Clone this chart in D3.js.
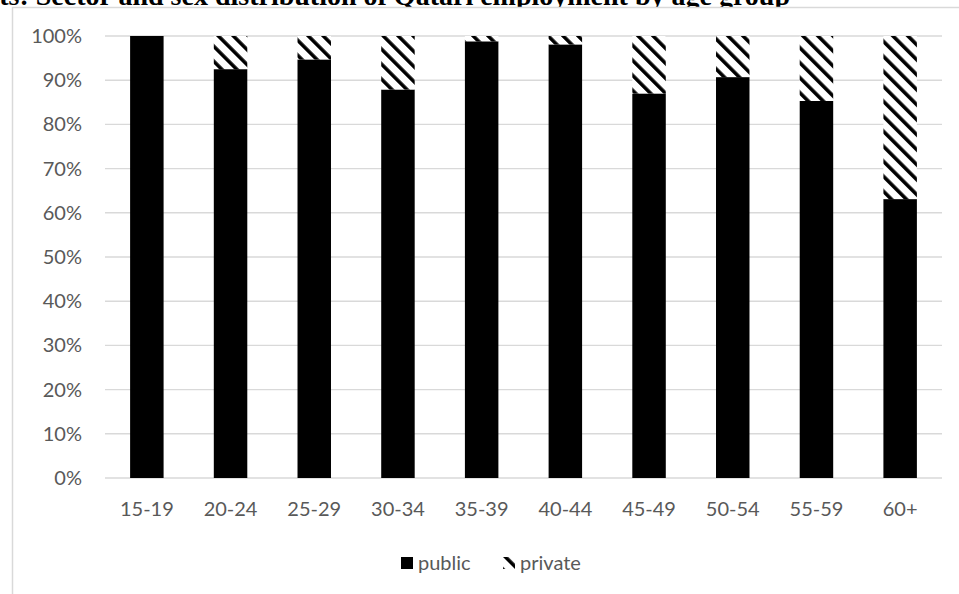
<!DOCTYPE html>
<html>
<head>
<meta charset="utf-8">
<script src="https://cdn.jsdelivr.net/npm/d3@7"></script>
<style>
  html, body { margin: 0; padding: 0; background: #fff; }
  svg { display: block; }
</style>
</head>
<body>
<svg id="chart" width="959" height="594"></svg>
<script>
// Age groups and the share of Qatari employment in each sector (%)
const ageGroups = ["15-19", "20-24", "25-29", "30-34", "35-39", "40-44", "45-49", "50-54", "55-59", "60+"];
const publicShare = [100, 92.5, 94.7, 87.9, 98.8, 98.1, 87.0, 90.7, 85.3, 63.1];
const privateShare = [0, 7.5, 5.3, 12.1, 1.2, 1.9, 13.0, 9.3, 14.7, 36.9];
const yTicks = [0, 10, 20, 30, 40, 50, 60, 70, 80, 90, 100];
const seriesNames = ["public", "private"];
const titleText = "ts: Sector and sex distribution of Qatari employment by age group";

const svg = d3.select("#chart");
const font = "Lato, 'Open Sans', 'Liberation Sans', sans-serif";
const labelColor = "#595959";
const gridColor = "#d9d9d9";

// Diagonal hatch used for the private sector
const defs = svg.append("defs");
defs.append("pattern")
  .attr("id", "hatch")
  .attr("patternUnits", "userSpaceOnUse")
  .attr("width", 10.6)
  .attr("height", 10.6)
  .attr("patternTransform", "rotate(-45)")
  .call(p => {
    p.append("rect").attr("width", 10.6).attr("height", 10.6).attr("fill", "#fff");
    p.append("rect").attr("x", 0).attr("width", 3.6).attr("height", 10.6).attr("fill", "#000");
  });

// Heading (runs off the top edge of the page)
svg.append("text")
  .attr("x", 790)
  .attr("y", 4.5)
  .attr("text-anchor", "end")
  .attr("font-family", "'Liberation Serif', 'Times New Roman', serif")
  .attr("font-weight", "bold")
  .attr("font-size", 28)
  .attr("fill", "#000")
  .text(titleText);

// Chart frame
svg.append("rect")
  .attr("x", 12.5).attr("y", 7.5)
  .attr("width", 1000).attr("height", 700)
  .attr("fill", "#fff")
  .attr("stroke", gridColor)
  .attr("stroke-width", 1.5);

const plot = { left: 105, right: 942, top: 36, bottom: 478 };

const x = d3.scaleBand()
  .domain(ageGroups)
  .range([plot.left, plot.right])
  .paddingInner(0.6)
  .paddingOuter(0.3);

const y = d3.scaleLinear()
  .domain([0, 100])
  .range([plot.bottom, plot.top]);

// Gridlines
svg.append("g")
  .selectAll("line")
  .data(yTicks)
  .join("line")
  .attr("x1", plot.left).attr("x2", plot.right)
  .attr("y1", d => y(d)).attr("y2", d => y(d))
  .attr("stroke", gridColor)
  .attr("stroke-width", 1.4);

// Y axis labels
const yAxis = svg.append("g")
  .attr("transform", `translate(${plot.left},0)`)
  .call(d3.axisLeft(y).tickValues(yTicks).tickFormat(d => d + "%").tickSize(0).tickPadding(23));
yAxis.select(".domain").remove();
yAxis.selectAll("text")
  .attr("font-family", font)
  .attr("font-size", 20)
  .attr("fill", labelColor);

// X axis labels
const xAxis = svg.append("g")
  .attr("transform", `translate(0,${plot.bottom})`)
  .call(d3.axisBottom(x).tickSize(0).tickPadding(24));
xAxis.select(".domain").remove();
xAxis.selectAll("text")
  .attr("font-family", font)
  .attr("font-size", 20)
  .attr("fill", labelColor);

// Stacked bars
const rows = ageGroups.map((g, i) => ({ group: g, public: publicShare[i], private: privateShare[i] }));
const stacked = d3.stack().keys(seriesNames)(rows);
const fills = { public: "#000", private: "url(#hatch)" };

svg.append("g")
  .selectAll("g")
  .data(stacked)
  .join("g")
  .attr("fill", d => fills[d.key])
  .selectAll("rect")
  .data(d => d)
  .join("rect")
  .attr("x", d => x(d.data.group))
  .attr("width", x.bandwidth())
  .attr("y", d => y(d[1]))
  .attr("height", d => Math.max(0, y(d[0]) - y(d[1])));

// Legend
const legend = svg.append("g").attr("transform", "translate(401,557)");
const legendItems = [
  { key: "public", x: 0 },
  { key: "private", x: 102 }
];
legendItems.forEach(item => {
  const g = legend.append("g").attr("transform", `translate(${item.x},0)`);
  g.append("rect")
    .attr("width", 12).attr("height", 12)
    .attr("fill", fills[item.key]);
  g.append("text")
    .attr("x", 17).attr("y", 13)
    .attr("font-family", font)
    .attr("font-size", 20)
    .attr("fill", labelColor)
    .text(item.key);
});
</script>
</body>
</html>
